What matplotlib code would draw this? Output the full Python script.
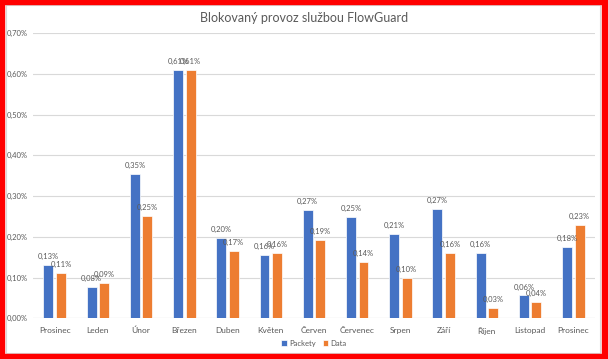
import numpy as np
import matplotlib.pyplot as plt
from matplotlib.patches import Rectangle

# data (values in %)
months = ["Prosinec", "Leden", "Únor", "Březen", "Duben", "Květen", "Červen",
          "Červenec", "Srpen", "Září", "Říjen", "Listopad", "Prosinec"]
packety = [0.13, 0.078, 0.354, 0.609, 0.198, 0.1553, 0.266, 0.249, 0.206, 0.269, 0.161, 0.056, 0.176]
data = [0.112, 0.086, 0.252, 0.609, 0.166, 0.160, 0.193, 0.138, 0.098, 0.161, 0.026, 0.040, 0.228]
yticks = [0.0, 0.1, 0.2, 0.3, 0.4, 0.5, 0.6, 0.7]

blue = "#4472C4"
orange = "#ED7D31"
grey = "#595959"

plt.rcParams['font.family'] = ['Lato', 'DejaVu Sans']

fig = plt.figure(figsize=(6.08, 3.59), dpi=100)
ax = fig.add_axes([0.0543, 0.1134, 0.9243, 0.7946])

x = np.arange(len(months))
w = 0.23
off = 0.145
b1 = ax.bar(x - off, packety, w, color=blue, edgecolor="white", linewidth=0.5, label="Packety", zorder=3)
b2 = ax.bar(x + off, data, w, color=orange, edgecolor="white", linewidth=0.5, label="Data", zorder=3)

def fmt(v):
    return ("%.2f" % v).replace(".", ",") + "%"

for bars, vals in ((b1, packety), (b2, data)):
    for r, v in zip(bars, vals):
        ax.text(r.get_x() + r.get_width() / 2, v + 0.012, fmt(v), ha="center", va="bottom",
                fontsize=5.5, color=grey, zorder=4)

ax.set_xlim(-0.5, len(months) - 0.5)
ax.set_ylim(0, 0.7)
ax.set_yticks(yticks)
ax.set_yticklabels([fmt(t) for t in yticks], fontsize=5.5, color=grey)
ax.set_xticks(x)
ax.set_xticklabels(months, fontsize=6, color=grey)
ax.tick_params(length=0, pad=6)
ax.tick_params(axis="y", pad=4)
for s in ax.spines.values():
    s.set_visible(False)
ax.yaxis.grid(True, color="#D9D9D9", linewidth=0.8, zorder=0)
ax.axhline(0, color="#D9D9D9", linewidth=0.8, zorder=1)

fig.text(0.5, 0.950, "Blokovaný provoz službou FlowGuard", ha="center", va="center",
         fontsize=9, color=grey)

ax.legend(loc="center", bbox_to_anchor=(0.5, -0.087), ncol=2, frameon=False,
          fontsize=5.5, handlelength=0.7, handleheight=0.7, handletextpad=0.3,
          columnspacing=1.0, labelcolor=grey)

# chart border and red frame
fig.patches.append(Rectangle((6 / 608, 6 / 359), 594 / 608, 348 / 359, transform=fig.transFigure,
                             fill=False, edgecolor="#D9D9D9", linewidth=0.8, zorder=5))
fig.patches.append(Rectangle((0, 0), 1, 5 / 359, transform=fig.transFigure, color="red", zorder=6))
fig.patches.append(Rectangle((0, 1 - 4 / 359), 1, 4 / 359, transform=fig.transFigure, color="red", zorder=6))
fig.patches.append(Rectangle((0, 0), 4 / 608, 1, transform=fig.transFigure, color="red", zorder=6))
fig.patches.append(Rectangle((1 - 6 / 608, 0), 6 / 608, 1, transform=fig.transFigure, color="red", zorder=6))

fig.savefig("out.png", dpi=100)
